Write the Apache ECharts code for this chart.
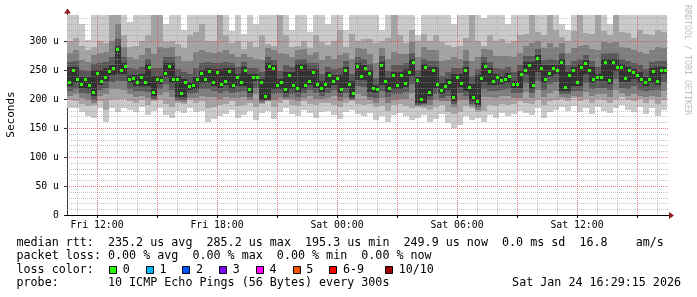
<!DOCTYPE html>
<html><head><meta charset="utf-8">
<script src="https://cdn.jsdelivr.net/npm/echarts@6/dist/echarts.min.js"></script>
<style>html,body{margin:0;padding:0;background:#fff}#c{width:697px;height:297px}</style>
</head><body><div id="c"></div>
<script>
// time axis in hours since Fri 00:00
const TIME_START = 10.5;
const TIME_END = 40.5;
const Y_MAX = 346;

// median RTT (microseconds), one value per 12 minutes
const medianRtt = [229,249,234,225,233,223,211,244,231,237,247,253,286,250,256,233,235,229,238,229,255,211,234,232,244,256,233,234,209,229,221,224,233,244,234,248,229,
246,225,230,247,224,238,229,249,217,238,237,229,205,257,253,224,228,217,241,224,218,254,224,231,246,225,219,226,241,231,236,216,250,225,209,256,239,
253,244,218,216,258,230,219,240,223,240,227,246,264,232,200,254,211,250,225,214,221,229,203,238,227,249,220,203,196,235,256,247,231,237,232,234,239,225,
226,242,249,258,224,270,253,233,245,252,250,264,220,241,249,229,254,261,249,234,238,237,264,232,264,255,254,235,249,246,241,233,229,233,247,231,250,250];

// sorted ping RTTs (microseconds), ping1 = fastest ... ping10 = slowest, one value per 18 minutes
const ping1 = [185,184,178,170,167,184,161,185,178,185,182,178,186,173,180,184,172,167,180,176,184,178,180,161,165,
170,175,182,168,172,180,164,176,180,166,178,184,174,170,182,176,168,178,180,172,166,178,182,174,170,
176,164,170,160,172,176,170,164,168,172,160,166,174,158,150,156,170,164,168,160,172,168,176,170,174,
180,176,172,184,168,178,182,186,180,188,178,184,174,186,180,176,184,190,182,178,186,174,184,170,182];
const ping2 = [198,196,192,188,190,197,182,198,200,200,196,194,198,190,196,198,192,186,194,192,198,194,196,184,186,
190,192,196,188,190,194,186,192,196,186,194,198,190,188,196,192,190,194,194,190,186,194,196,192,190,
192,186,188,180,190,192,188,184,186,184,182,186,190,178,174,178,188,184,178,180,190,188,192,190,192,
196,194,192,198,190,196,198,200,196,202,196,200,194,200,198,194,200,204,198,196,200,194,200,192,198];
const ping3 = [205,208,202,199,194,206,208,218,218,216,208,204,206,202,198,207,212,204,197,195,202,202,206,204,204,
200,204,202,202,203,199,208,194,197,199,202,200,200,196,202,206,200,200,202,205,196,202,198,208,206,
198,194,202,194,198,200,200,210,188,188,190,198,196,196,186,198,198,188,182,204,204,202,206,206,202,
202,212,202,216,204,210,214,204,202,206,204,212,206,208,208,204,216,210,206,208,206,204,206,204,214];
const ping4 = [214,218,211,209,199,216,220,230,232,232,218,214,214,213,201,217,226,216,199,198,208,210,218,217,214,
210,214,210,213,214,204,220,196,198,209,210,204,209,204,210,216,210,206,211,215,203,210,200,222,221,
204,202,214,204,208,208,212,226,190,191,198,208,202,206,192,210,206,192,186,218,214,214,216,218,210,
211,228,210,232,216,226,230,208,208,214,214,228,218,220,220,216,234,220,218,222,216,214,216,216,230];
const ping5 = [223,228,219,217,205,225,231,241,244,244,227,223,223,223,205,226,238,227,203,203,215,218,228,228,223,
219,224,218,223,223,211,231,199,199,218,218,211,218,212,218,225,219,213,220,225,210,219,203,233,233,
212,210,224,213,217,217,221,240,194,194,205,219,208,215,197,221,214,197,190,229,225,225,226,228,219,
220,243,218,247,227,239,244,214,214,223,223,243,228,231,231,226,249,229,229,235,227,223,227,225,244];
const ping6 = [255,255,239,239,250,250,253,259,292,262,241,241,244,261,240,240,262,262,240,235,230,239,250,254,252,
252,253,253,244,255,244,244,235,263,259,234,247,247,260,260,252,252,232,247,242,242,256,231,262,259,
250,224,264,236,246,246,252,270,238,260,256,256,227,235,244,244,255,226,241,262,253,243,240,245,232,
248,264,264,276,259,258,258,270,247,255,260,267,255,244,270,270,270,260,255,252,247,239,253,256,256];
const ping7 = [264,266,250,248,260,262,264,272,304,272,254,252,256,270,254,254,272,272,252,246,244,254,262,264,262,
262,264,262,256,264,254,254,246,272,268,248,258,256,270,270,262,262,244,256,252,254,266,244,272,270,
260,236,274,248,258,258,262,280,250,270,266,266,240,246,254,254,266,240,252,272,264,254,252,256,246,
258,274,274,286,268,270,268,280,258,266,270,276,266,256,280,280,280,270,266,262,258,252,264,266,266];
const ping8 = [280,284,268,264,276,280,282,300,330,290,272,270,276,288,278,290,288,290,274,266,266,282,284,282,280,
282,284,278,272,278,272,270,268,288,284,280,278,272,284,286,276,282,268,274,270,276,280,270,288,286,
278,262,288,270,282,278,278,298,272,290,284,284,266,268,272,270,284,266,272,286,284,274,274,274,272,
280,292,296,300,288,296,290,296,280,288,292,294,286,284,298,296,298,290,288,284,282,278,284,290,288];
const ping9 = [300,305,292,285,290,300,296,345,345,310,290,292,300,310,345,345,298,300,295,288,310,315,330,300,300,
345,310,296,300,286,298,290,310,295,292,345,310,290,292,300,288,310,298,294,300,320,290,312,300,304,
304,296,300,306,345,310,296,320,300,312,300,310,298,294,290,292,306,345,300,292,310,300,304,296,300,
310,312,345,316,310,345,320,308,300,318,345,314,312,345,318,310,345,316,314,306,320,312,310,320,315];
const ping10 = [345,345,330,302,345,345,345,345,345,345,333,345,345,345,345,345,330,345,345,320,345,345,345,345,345,
345,345,318,345,312,345,330,345,345,345,345,345,320,345,345,315,345,345,330,345,345,320,345,345,345,
345,345,320,345,345,345,345,345,310,345,345,345,345,345,330,345,345,345,345,340,345,345,345,330,345,
345,345,345,345,345,345,345,330,320,345,345,345,345,345,345,330,345,345,345,345,345,345,345,345,345];

// axis ticks / labels
const xTickHours = [12, 18, 24, 30, 36];
const xTickLabels = ['Fri 12:00', 'Fri 18:00', 'Sat 00:00', 'Sat 06:00', 'Sat 12:00'];
const xMajorHours = [12, 15, 18, 21, 24, 27, 30, 33, 36, 39];
const xMinorHours = [11, 13, 14, 16, 17, 19, 20, 22, 23, 25, 26, 28, 29, 31, 32, 34, 35, 37, 38, 40];
const yTickValues = [0, 50, 100, 150, 200, 250, 300];
const yTickLabels = ['0', '50 u', '100 u', '150 u', '200 u', '250 u', '300 u'];
const yMinorValues = [10, 20, 30, 40, 60, 70, 80, 90, 110, 120, 130, 140, 160, 170, 180, 190, 210, 220, 230, 240, 260, 270, 280, 290, 310, 320, 330, 340];

// legend
const lossLabels = ['0', '1', '2', '3', '4', '5', '6-9', '10/10'];
const lossColors = ['#26ff00', '#00b8ff', '#0059ff', '#7e00ff', '#ff00ff', '#ff5500', '#ff0000', '#a10000'];
const legendRow1 = 'median rtt:  235.2 us avg  285.2 us max  195.3 us min  249.9 us now  0.0 ms sd  16.8    am/s';
const legendRow2 = 'packet loss: 0.00 % avg  0.00 % max  0.00 % min  0.00 % now';
const legendRow3 = 'loss color:';
const legendRow4 = 'probe:       10 ICMP Echo Pings (56 Bytes) every 300s';
const stampText = 'Sat Jan 24 16:29:15 2026';
const yAxisTitle = 'Seconds';
const watermark = 'RRDTOOL / TOBI OETIKER';

// ---------------- build ----------------
const MONO = '"DejaVu Sans Mono", monospace';
const smokeShades = ['#cacaca', '#a4a4a4', '#7e7e7e', '#585858', '#323232'];
const pings = [ping1, ping2, ping3, ping4, ping5, ping6, ping7, ping8, ping9, ping10];
const smokeStep = (TIME_END - TIME_START) / ping1.length;
const smokeData = ping1.map((_, j) => [TIME_START + smokeStep * (j + 0.5)].concat(pings.map(p => p[j])));
const medStep = (TIME_END - TIME_START) / medianRtt.length;
const medData = medianRtt.map((v, i) => [TIME_START + medStep * (i + 0.5), v]);

const MINOR_GRID = 'rgba(150,150,150,0.55)';
const MAJOR_GRID = 'rgba(224,70,70,0.7)';

function vLineRender(color) {
  return function (params, api) {
    const h = api.value(0);
    const a = api.coord([h, 0]);
    const b = api.coord([h, Y_MAX]);
    const x = Math.round(a[0]) + 0.5;
    return { type: 'line', silent: true,
      shape: { x1: x, y1: a[1], x2: x, y2: b[1] },
      style: { stroke: color, lineWidth: 1, lineDash: [1, 1] } };
  };
}
function hLineRender(color) {
  return function (params, api) {
    const v = api.value(0);
    const a = api.coord([TIME_START, v]);
    const b = api.coord([TIME_END, v]);
    const y = Math.round(a[1]) + 0.5;
    return { type: 'line', silent: true,
      shape: { x1: a[0], y1: y, x2: b[0] + 2, y2: y },
      style: { stroke: color, lineWidth: 1, lineDash: [1, 1] } };
  };
}

const chart = echarts.init(document.getElementById('c'), null, { renderer: 'canvas', width: 697, height: 297 });

chart.setOption({
  backgroundColor: '#ffffff',
  animation: false,
  grid: { left: 67, right: 30, top: 14.5, bottom: 82, containLabel: false, outerBoundsMode: 'none' },
  xAxis: {
    type: 'value', min: TIME_START, max: TIME_END,
    axisLine: { show: true, lineStyle: { color: '#000', width: 1 } },
    axisTick: { show: true, customValues: xMajorHours, length: 3, lineStyle: { color: '#000' } },
    axisLabel: {
      customValues: xTickHours,
      formatter: v => { const k = xTickHours.findIndex(h => Math.abs(h - v) < 1e-6); return k >= 0 ? xTickLabels[k] : ''; },
      fontFamily: MONO, fontSize: 9.8, color: '#000', margin: 5
    },
    splitLine: { show: false }
  },
  yAxis: {
    type: 'value', min: 0, max: Y_MAX,
    axisLine: { show: true, lineStyle: { color: '#333', width: 1 } },
    axisTick: { show: true, customValues: yTickValues, length: 3, lineStyle: { color: '#333' } },
    axisLabel: {
      customValues: yTickValues,
      formatter: v => { const k = yTickValues.findIndex(h => Math.abs(h - v) < 1e-6); return k >= 0 ? yTickLabels[k] : ''; },
      fontFamily: MONO, fontSize: 9.8, color: '#000', margin: 8
    },
    splitLine: { show: false }
  },
  series: [
    {
      type: 'custom', z: 2, clip: true, silent: true,
      encode: { x: 0, y: [1, 2, 3, 4, 5, 6, 7, 8, 9, 10] },
      data: smokeData,
      renderItem: function (params, api) {
        const t = api.value(0);
        const children = [];
        for (let b = 0; b < 5; b++) {
          const lo = api.value(1 + b), hi = api.value(10 - b);
          const p0 = api.coord([t - smokeStep / 2, hi]);
          const p1 = api.coord([t + smokeStep / 2, lo]);
          const x0 = Math.round(p0[0]), x1 = Math.round(p1[0]);
          const y0 = Math.round(p0[1]), y1 = Math.round(p1[1]);
          children.push({ type: 'rect', shape: { x: x0, y: y0, width: x1 - x0, height: Math.max(1, y1 - y0) },
            style: { fill: smokeShades[b] } });
        }
        return { type: 'group', children: children };
      }
    },
    { type: 'custom', z: 3, silent: true, encode: { x: 0 }, data: xMinorHours.map(h => [h]), renderItem: vLineRender(MINOR_GRID) },
    { type: 'custom', z: 3, silent: true, encode: { y: 0 }, data: yMinorValues.map(v => [v]), renderItem: hLineRender(MINOR_GRID) },
    { type: 'custom', z: 3, silent: true, encode: { x: 0 }, data: xMajorHours.map(h => [h]), renderItem: vLineRender(MAJOR_GRID) },
    { type: 'custom', z: 3, silent: true, encode: { y: 0 }, data: yTickValues.slice(1).map(v => [v]), renderItem: hLineRender(MAJOR_GRID) },
    {
      type: 'custom', z: 4, silent: true, clip: true,
      encode: { x: 0, y: 1 },
      data: medData,
      renderItem: function (params, api) {
        const p = api.coord([api.value(0), api.value(1)]);
        return { type: 'rect', shape: { x: Math.round(p[0] - 1.5), y: Math.round(p[1] - 1.5), width: 3, height: 3 },
          style: { fill: lossColors[0] } };
      }
    }
  ]
});

// decorations: axis arrows, titles, legend
const origin = chart.convertToPixel({ gridIndex: 0 }, [TIME_START, 0]);
const xEnd = chart.convertToPixel({ gridIndex: 0 }, [TIME_END, 0]);
const yTop = chart.convertToPixel({ gridIndex: 0 }, [TIME_START, Y_MAX]);
const ARROW = '#8f1c1c';
const ax = Math.round(origin[0]) + 0.5;
const ay = Math.round(origin[1]) + 0.5;
const ex = Math.round(xEnd[0]);
const ty = Math.round(yTop[1]);

const LEG_FONT = '11.7px ' + MONO;
const rowY = [242.8, 256.2, 269.6, 283];
const textLeft = 16.5;
const boxX = [109, 145.7, 182.4, 219.1, 255.8, 292.5, 329.2, 385];

const graphics = [
  { type: 'line', silent: true, z: 10, shape: { x1: ax - 3, y1: ay, x2: ex + 2, y2: ay }, style: { stroke: '#000', lineWidth: 1 } },
  { type: 'polygon', silent: true, z: 10, shape: { points: [[ex + 2, ay - 3.5], [ex + 2, ay + 3.5], [ex + 7, ay]] }, style: { fill: ARROW } },
  { type: 'line', silent: true, z: 10, shape: { x1: ax, y1: ty, x2: ax, y2: ty - 2 }, style: { stroke: '#333', lineWidth: 1 } },
  { type: 'polygon', silent: true, z: 10, shape: { points: [[ax - 3.5, ty - 1.5], [ax + 3.5, ty - 1.5], [ax, ty - 6.5]] }, style: { fill: ARROW } },
  { type: 'text', silent: true, x: 11, y: 114.5, rotation: Math.PI / 2,
    style: { text: yAxisTitle, font: '11px ' + MONO, fill: '#000', align: 'center', verticalAlign: 'middle', textAlign: 'center', textVerticalAlign: 'middle' } },
  { type: 'text', silent: true, x: 687, y: 60, rotation: -Math.PI / 2,
    style: { text: watermark, font: '8.3px ' + MONO, fill: '#bdbdbd', align: 'center', verticalAlign: 'middle', textAlign: 'center', textVerticalAlign: 'middle' } },
  { type: 'text', silent: true, x: textLeft, y: rowY[0], style: { text: legendRow1, font: LEG_FONT, fill: '#000', verticalAlign: 'middle', textVerticalAlign: 'middle' } },
  { type: 'text', silent: true, x: textLeft, y: rowY[1], style: { text: legendRow2, font: LEG_FONT, fill: '#000', verticalAlign: 'middle', textVerticalAlign: 'middle' } },
  { type: 'text', silent: true, x: textLeft, y: rowY[2], style: { text: legendRow3, font: LEG_FONT, fill: '#000', verticalAlign: 'middle', textVerticalAlign: 'middle' } },
  { type: 'text', silent: true, x: textLeft, y: rowY[3], style: { text: legendRow4, font: LEG_FONT, fill: '#000', verticalAlign: 'middle', textVerticalAlign: 'middle' } },
  { type: 'text', silent: true, x: 681, y: rowY[3], style: { text: stampText, font: LEG_FONT, fill: '#000', align: 'right', textAlign: 'right', verticalAlign: 'middle', textVerticalAlign: 'middle' } }
];
lossLabels.forEach((lab, k) => {
  const bx = Math.round(boxX[k]) + 0.5;
  graphics.push({ type: 'rect', silent: true, shape: { x: bx, y: Math.round(rowY[2] - 4) + 0.5, width: 7, height: 7 },
    style: { fill: lossColors[k], stroke: '#000', lineWidth: 1 } });
  graphics.push({ type: 'text', silent: true, x: boxX[k] + 13.7, y: rowY[2],
    style: { text: lab, font: LEG_FONT, fill: '#000', verticalAlign: 'middle', textVerticalAlign: 'middle' } });
});
chart.setOption({ graphic: graphics });
</script>
</body></html>
